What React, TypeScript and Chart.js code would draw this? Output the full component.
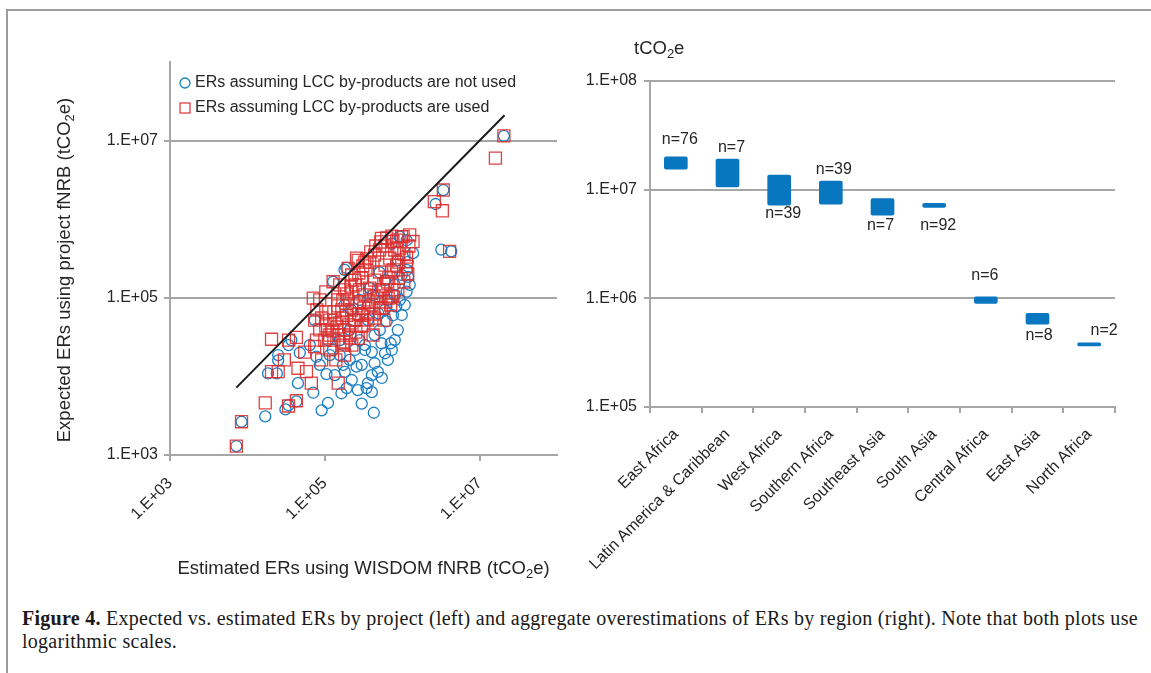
import React, { useEffect, useRef } from 'react';
import { Chart, registerables } from 'chart.js';

Chart.register(...registerables);

const FONT = '"Liberation Sans", Arial, Helvetica, sans-serif';

// ---------------- Left panel data (tCO2e) ----------------
// [estimated ERs using WISDOM fNRB, expected ERs using project fNRB]
const notUsedPoints: [number, number][] = [
  [7.2e3, 1.3e3], [8.4e3, 2.65e3], [1.7e4, 3.1e3], [3.1e4, 3.8e3], [3.4e4, 4.3e3],
  [4.3e4, 4.8e3], [9.1e4, 3.7e3], [1.1e5, 4.6e3], [3.0e5, 4.5e3], [4.3e5, 3.45e3],
  [3.46e5, 7.1e3], [3.6e5, 8.2e3], [1.64e5, 6.1e3], [7.1e4, 6.2e3], [4.5e4, 8.2e3],
  [1.05e5, 1.07e4], [1.72e5, 1.4e4], [2.57e5, 1.33e4], [3.0e5, 1.4e4], [4.4e5, 1.47e4],
  [6.0e5, 1.97e4], [7.1e5, 2.64e4], [5.4e5, 2.64e4], [4.4e5, 3.36e4], [3.3e5, 2.17e4],
  [7.8e4, 1.78e4], [2.5e4, 1.87e4], [1.85e4, 1.09e4], [2.4e4, 1.09e4], [3.4e4, 2.5e4],
  [3.7e4, 2.9e4], [6.3e5, 5.0e4], [7.6e5, 6.0e4], [9.3e5, 9.4e4], [1.14e6, 1.2e5],
  [1.19e6, 1.85e5], [1.14e6, 2.26e5], [1.38e6, 3.7e5], [1.14e6, 5.4e5], [9.3e5, 6.0e5],
  [7.3e5, 4.9e5], [3.2e6, 4.1e5], [4.3e6, 3.9e5], [4.9e5, 6.35e4], [8.4e5, 7.7e4],
  [1.8e5, 2.26e5], [1.28e5, 1.6e5], [7.4e4, 5.2e4], [4.2e5, 1.09e5], [3.6e5, 5.2e4],
  [3.4e6, 2.35e6], [2.7e6, 1.56e6], [2.06e7, 1.15e7], [1.9e5, 2.4e5], [4.75e4, 2.0e4],
  [2.1e5, 3.9e4], [1.56e5, 2.9e4], [2.8e5, 9.4e4], [2.2e5, 7.0e4], [6.0e5, 1.68e5],
  [8.8e5, 3.0e5], [1.16e5, 1.87e4], [2.44e5, 2.17e4], [4.05e5, 1.04e4], [6.4e4, 2.5e4],
  [8.6e4, 1.4e4], [6.5e5, 9.4e4], [8.0e5, 1.46e5], [2.8e5, 2.9e4], [3.8e5, 1.33e5],
  [5.1e5, 2.1e5], [1.8e5, 8.1e4], [1.1e5, 2.9e4], [2.5e4, 1.6e4],
  [7.34e5, 2.17e4], [8.77e5, 3.89e4], [9.88e5, 6.04e4], [1.08e6, 8.1e4], [1.25e6, 1.46e5],
  [6.52e5, 1.62e4], [4.84e5, 1.14e4], [2.23e5, 9.0e3], [2.67e5, 6.7e3], [1.92e5, 7.1e3],
  [1.35e5, 1.04e4], [1.81e5, 1.14e4], [4.05e5, 6.3e3], [5.45e5, 9.55e3], [8.02e5, 2.9e4],
  [2.1e5, 1.62e4], [3.29e5, 2.51e4], [4.05e5, 2.04e4], [5.14e5, 3.89e4], [5.96e5, 7.0e4],
  [8.02e5, 1.09e5], [9.88e5, 1.95e5], [1.18e6, 2.85e5], [1.27e5, 2.17e4], [1.56e5, 1.87e4],
];

const usedPoints: [number, number][] = [
  [7.2e3, 1.3e3], [8.4e3, 2.65e3], [1.7e4, 4.6e3], [3.4e4, 4.2e3], [4.3e4, 4.9e3],
  [1.49e5, 8.2e3], [6.7e4, 8.2e3], [5.8e4, 1.15e4], [4.5e4, 1.27e4], [2.05e4, 1.15e4],
  [2.5e4, 1.15e4], [3.0e4, 1.62e4], [2.05e4, 2.97e4], [3.4e4, 2.9e4], [4.3e4, 3.14e4],
  [7.8e4, 2.9e4], [7.4e4, 2.4e4], [2.7e5, 3.05e4], [4.2e5, 3.36e4], [7.1e4, 9.9e4],
  [7.4e4, 5.2e4], [1.28e5, 1.6e5], [2.0e5, 2.37e5], [2.7e5, 3.0e5], [5.4e5, 5.7e5],
  [9.8e5, 6.0e5], [1.25e6, 6.3e5], [1.38e6, 5.2e5], [1.14e6, 3.3e5], [1.14e6, 2.5e5],
  [8.85e5, 1.77e5], [7.6e5, 1.03e5], [6.6e5, 9.9e4], [4.1e6, 3.9e5], [3.4e6, 2.35e6],
  [2.6e6, 1.67e6], [3.3e6, 1.28e6], [2.06e7, 1.15e7], [1.6e7, 6.0e6], [2.57e5, 3.2e5],
  [7.6e5, 5.2e5], [1.03e6, 6.0e5], [8.85e5, 3.7e5],
  [1.0e5, 2.9e4], [1.16e5, 3.36e4], [1.27e5, 3.8e4], [1.43e5, 4.25e4], [1.56e5, 4.8e4],
  [1.71e5, 5.5e4], [1.92e5, 6.0e4], [2.23e5, 7.0e4], [2.6e5, 7.9e4], [2.8e5, 8.85e4],
  [1.09e5, 3.9e4], [1.35e5, 5.2e4], [1.66e5, 7.0e4], [1.98e5, 9.4e4], [2.23e5, 1.19e5],
  [2.5e5, 1.46e5], [3.0e5, 1.8e5], [3.4e5, 2.26e5], [3.8e5, 2.85e5], [4.4e5, 3.5e5],
  [5.1e5, 4.06e5], [6.0e5, 4.56e5], [3.3e5, 1.09e5], [3.8e5, 1.33e5], [4.4e5, 1.68e5],
  [5.1e5, 2.13e5], [6.0e5, 2.6e5], [6.9e5, 3.2e5], [8.0e5, 4.06e5], [4.05e5, 8.1e4],
  [4.8e5, 9.9e4], [5.6e5, 1.26e5], [6.5e5, 1.59e5], [7.3e5, 2.13e5], [8.5e5, 2.6e5],
  [9.3e5, 4.3e5], [1.8e5, 1.26e5], [1.47e5, 9.4e4], [2.44e5, 5.2e4], [3.0e5, 6.0e4],
  [3.6e5, 6.6e4], [4.4e5, 5.5e4], [5.45e5, 7.4e4], [2.8e5, 1.26e5], [3.2e5, 4.5e4],
  [2.1e5, 3.36e4], [1.71e5, 2.5e4], [1.16e5, 2.17e4], [8.6e4, 3.9e4], [1.03e5, 6.6e4],
  [5.8e5, 5.2e4], [7.1e5, 8.1e4], [1.39e5, 1.62e4], [1.8e5, 1.87e4], [2.23e5, 2.5e4],
  [5.5e4, 2.04e4], [9.1e4, 1.62e4],
  [1.16e5, 5.2e4], [1.31e5, 6.6e4], [1.47e5, 7.9e4], [1.71e5, 9.4e4], [1.92e5, 1.12e5],
  [2.17e5, 1.41e5], [2.44e5, 1.68e5], [2.75e5, 2.07e5], [3.1e5, 2.54e5], [3.49e5, 3.12e5],
  [3.93e5, 3.83e5], [4.56e5, 4.56e5], [5.29e5, 5.13e5], [6.32e5, 5.77e5], [7.34e5, 6.1e5],
  [8.51e5, 5.43e5], [1.31e5, 2.9e4], [1.52e5, 3.36e4], [1.76e5, 3.89e4], [2.04e5, 4.51e4],
  [2.37e5, 5.22e4], [2.75e5, 6.22e4], [3.19e5, 7.41e4], [3.7e5, 8.85e4], [4.3e5, 1.05e5],
  [4.99e5, 1.26e5], [5.78e5, 1.5e5], [6.71e5, 1.79e5], [7.78e5, 2.26e5], [9.04e5, 2.85e5],
  [1.05e6, 3.61e5], [1.22e6, 4.56e5], [1.76e5, 2.74e4], [2.1e5, 3.08e4], [2.52e5, 3.67e4],
  [3.0e5, 4.38e4], [3.6e5, 5.22e4], [4.3e5, 6.22e4], [5.14e5, 7.41e4], [6.14e5, 8.85e4],
  [7.34e5, 1.05e5], [8.77e5, 1.26e5], [1.05e6, 1.59e5], [1.18e6, 2.01e5], [1.03e5, 4.38e4],
  [9.1e4, 5.53e4], [7.9e4, 7.0e4], [8.6e4, 9.38e4], [1.03e5, 1.19e5], [1.56e5, 1.46e5],
  [2.23e5, 1.95e5], [3.29e5, 2.85e5],
];

const parityLine: [number, number][] = [[7.2e3, 7.2e3], [2.1e7, 2.1e7]];
const scatterTicks = [1e3, 1e5, 1e7];
const legendLabels = [
  'ERs assuming LCC by-products are not used',
  'ERs assuming LCC by-products are used',
];

// ---------------- Right panel data (tCO2e) ----------------
const regions = [
  'East Africa', 'Latin America & Caribbean', 'West Africa', 'Southern Africa',
  'Southeast Asia', 'South Asia', 'Central Africa', 'East Asia', 'North Africa',
];
const overLow = [1.54e7, 1.06e7, 7.2e6, 7.36e6, 5.84e6, 6.87e6, 8.97e5, 5.78e5, 3.65e5];
const overHigh = [2.01e7, 1.91e7, 1.36e7, 1.2e7, 8.3e6, 7.48e6, 1.03e6, 7.26e5, 3.89e5];
const projectCounts = [76, 7, 39, 39, 7, 92, 6, 8, 2];
const regionTicks = [1e5, 1e6, 1e7, 1e8];

// ---------------- Styles ----------------
const BLUE = 'rgb(27,126,196)';
const RED = 'rgba(220,46,46,0.9)';
const BAR = '#0877bf';
const GRID = '#a6a6a6';
const TEXT = '#262626';
// label placement (style): side of bar, x shift, y shift in px
const N_LABEL_PLACE: { side: 'above' | 'below'; dx: number; dy: number }[] = [
  { side: 'above', dx: 4, dy: -17 },
  { side: 'above', dx: 4, dy: -11.5 },
  { side: 'below', dx: 4, dy: 8.5 },
  { side: 'above', dx: 3, dy: -11.5 },
  { side: 'below', dx: -2, dy: 10.5 },
  { side: 'below', dx: 4, dy: 18.5 },
  { side: 'above', dx: -1, dy: -21 },
  { side: 'below', dx: 1.5, dy: 11 },
  { side: 'above', dx: 15, dy: -12.5 },
];

const fmtExp = (v: any) => {
  const e = Math.round(Math.log10(Number(v)));
  return '1.E+' + String(e).padStart(2, '0');
};

type Part = { t: string; sub?: boolean };
function drawRich(ctx: CanvasRenderingContext2D, parts: Part[], x: number, cy: number, size: number, align: 'center' | 'left') {
  const main = `${size}px ${FONT}`;
  const sub = `${Math.round(size * 0.68)}px ${FONT}`;
  let total = 0;
  const widths = parts.map((p) => {
    ctx.font = p.sub ? sub : main;
    const w = ctx.measureText(p.t).width;
    total += w;
    return w;
  });
  let cx = align === 'center' ? x - total / 2 : x;
  ctx.textAlign = 'left';
  ctx.textBaseline = 'alphabetic';
  const base = cy + size * 0.36;
  parts.forEach((p, i) => {
    ctx.font = p.sub ? sub : main;
    ctx.fillText(p.t, cx, p.sub ? base + size * 0.26 : base);
    cx += widths[i];
  });
}

const leftDecor = {
  id: 'leftDecor',
  afterDraw(chart: any) {
    const ctx: CanvasRenderingContext2D = chart.ctx;
    ctx.save();
    // legend
    ctx.lineWidth = 1.3;
    ctx.strokeStyle = BLUE;
    ctx.beginPath();
    ctx.arc(185, 83, 5, 0, Math.PI * 2);
    ctx.stroke();
    ctx.strokeStyle = RED;
    ctx.strokeRect(180, 103, 10, 10);
    ctx.fillStyle = TEXT;
    ctx.font = `16px ${FONT}`;
    ctx.textAlign = 'left';
    ctx.textBaseline = 'middle';
    ctx.fillText(legendLabels[0], 195, 83);
    ctx.fillText(legendLabels[1], 195, 108);
    // axis titles
    const area = chart.chartArea;
    drawRich(ctx, [{ t: 'Estimated ERs using WISDOM fNRB (tCO' }, { t: '2', sub: true }, { t: 'e)' }],
      (area.left + area.right) / 2, 567, 18.5, 'center');
    ctx.translate(63, 270);
    ctx.rotate(-Math.PI / 2);
    drawRich(ctx, [{ t: 'Expected ERs using project fNRB (tCO' }, { t: '2', sub: true }, { t: 'e)' }],
      0, 0, 18.5, 'center');
    ctx.restore();
  },
};

const rightDecor = {
  id: 'rightDecor',
  afterDraw(chart: any) {
    const ctx: CanvasRenderingContext2D = chart.ctx;
    ctx.save();
    ctx.fillStyle = TEXT;
    drawRich(ctx, [{ t: 'tCO' }, { t: '2', sub: true }, { t: 'e' }], 54, 47, 18.5, 'left');
    const meta = chart.getDatasetMeta(0);
    ctx.font = `16px ${FONT}`;
    ctx.textAlign = 'center';
    ctx.textBaseline = 'middle';
    meta.data.forEach((bar: any, i: number) => {
      const top = Math.min(bar.y, bar.base);
      const bottom = Math.max(bar.y, bar.base);
      const place = N_LABEL_PLACE[i];
      const y = place.side === 'above' ? top + place.dy : bottom + place.dy;
      ctx.fillText('n=' + projectCounts[i], bar.x + place.dx, y);
    });
    ctx.restore();
  },
};

export default function App() {
  const leftRef = useRef<HTMLCanvasElement>(null);
  const rightRef = useRef<HTMLCanvasElement>(null);

  useEffect(() => {
    Chart.defaults.font.family = FONT;
    Chart.defaults.font.size = 16;
    Chart.defaults.color = TEXT;

    const left = new Chart(leftRef.current!, {
      type: 'scatter',
      data: {
        datasets: [
          {
            data: parityLine.map(([x, y]) => ({ x, y })),
            showLine: true,
            borderColor: '#1b1b1b',
            borderWidth: 2,
            pointRadius: 0,
            fill: false,
          } as any,
          {
            data: usedPoints.map(([x, y]) => ({ x, y })),
            pointStyle: 'rect',
            pointRadius: 8.5,
            borderColor: RED,
            backgroundColor: 'rgba(0,0,0,0)',
            borderWidth: 1.3,
          },
          {
            data: notUsedPoints.map(([x, y]) => ({ x, y })),
            pointStyle: 'circle',
            pointRadius: 5.5,
            borderColor: BLUE,
            backgroundColor: 'rgba(0,0,0,0)',
            borderWidth: 1.3,
          },
        ],
      },
      options: {
        responsive: false,
        animation: false,
        events: [],
        layout: { padding: { left: 0, top: 62, right: 23, bottom: 0 } },
        plugins: { legend: { display: false }, tooltip: { enabled: false } },
        scales: {
          x: {
            type: 'logarithmic',
            min: 1e3,
            max: 1e8,
            afterBuildTicks: (s: any) => { s.ticks = scatterTicks.map((v) => ({ value: v })); },
            afterFit: (s: any) => { s.height = 145; },
            grid: { drawOnChartArea: false, drawTicks: true, tickLength: 6, color: GRID, lineWidth: 2 },
            border: { display: true, color: GRID, width: 2 },
            ticks: {
              callback: fmtExp, autoSkip: false, minRotation: 45, maxRotation: 45, padding: 13,
              color: TEXT, font: { size: 16, family: FONT },
            },
          },
          y: {
            type: 'logarithmic',
            min: 1e3,
            max: 1e8,
            afterBuildTicks: (s: any) => { s.ticks = scatterTicks.map((v) => ({ value: v })); },
            afterFit: (s: any) => { s.width = 170; },
            grid: { color: GRID, lineWidth: 2, tickLength: 6 },
            border: { display: true, color: GRID, width: 2 },
            ticks: { callback: fmtExp, padding: 6, color: TEXT, font: { size: 16, family: FONT } },
          },
        },
      } as any,
      plugins: [leftDecor],
    });

    const right = new Chart(rightRef.current!, {
      type: 'bar',
      data: {
        labels: regions,
        datasets: [
          {
            data: regions.map((_, i) => [overLow[i], overHigh[i]]) as any,
            backgroundColor: BAR,
            barThickness: 23,
            borderRadius: 2,
            borderSkipped: false,
            borderWidth: 0,
          },
        ],
      },
      options: {
        responsive: false,
        animation: false,
        events: [],
        layout: { padding: { left: 0, top: 81, right: 36, bottom: 0 } },
        plugins: { legend: { display: false }, tooltip: { enabled: false } },
        scales: {
          x: {
            afterFit: (s: any) => { s.height = 193; },
            grid: { drawOnChartArea: false, drawTicks: true, tickLength: 6, color: GRID, lineWidth: 2, offset: true },
            border: { display: true, color: GRID, width: 2 },
            ticks: {
              autoSkip: false, minRotation: 45, maxRotation: 45, padding: 12,
              color: TEXT, font: { size: 16, family: FONT },
            },
          },
          y: {
            type: 'logarithmic',
            min: 1e5,
            max: 1e8,
            afterBuildTicks: (s: any) => { s.ticks = regionTicks.map((v) => ({ value: v })); },
            afterFit: (s: any) => { s.width = 70; },
            grid: { color: GRID, lineWidth: 2, tickLength: 6 },
            border: { display: true, color: GRID, width: 2 },
            ticks: { callback: fmtExp, padding: 7, color: TEXT, font: { size: 16, family: FONT } },
          },
        },
      } as any,
      plugins: [rightDecor],
    });

    return () => {
      left.destroy();
      right.destroy();
    };
  }, []);

  return (
    <div style={{ position: 'absolute', left: 0, top: 0, width: 1151, height: 673, overflow: 'hidden', background: '#fff' }}>
      <div
        style={{
          position: 'absolute', left: 6, top: 9, width: 1145, height: 664, boxSizing: 'border-box',
          borderLeft: '2px solid #9c9c9c', borderTop: '2px solid #9c9c9c',
        }}
      />
      <canvas ref={leftRef} width={580} height={600} style={{ position: 'absolute', left: 0, top: 0 }} />
      <canvas ref={rightRef} width={571} height={600} style={{ position: 'absolute', left: 580, top: 0 }} />
      <div
        style={{
          position: 'absolute', left: 22, top: 607, whiteSpace: 'nowrap',
          fontFamily: '"Liberation Serif", "Times New Roman", serif', fontSize: 20, lineHeight: '23px',
          letterSpacing: '0.27px', color: '#1a1a1a',
        }}
      >
        <b>Figure 4.</b> Expected vs. estimated ERs by project (left) and aggregate overestimations of ERs by region (right). Note that both plots use
        <br />
        logarithmic scales.
      </div>
    </div>
  );
}
